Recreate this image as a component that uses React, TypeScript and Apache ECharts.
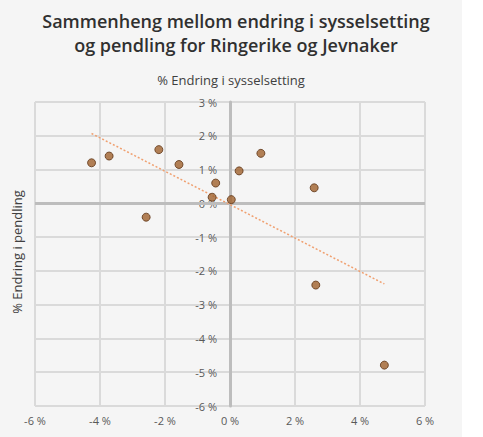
import React, { useEffect, useRef } from "react";
import * as echarts from "echarts";

const titleLines = ["Sammenheng mellom endring i sysselsetting", "og pendling for Ringerike og Jevnaker"];
const xAxisTitle = "% Endring i sysselsetting";
const yAxisTitle = "% Endring i pendling";

// % change in employment (x) and % change in commuting (y)
const employmentChange = [-4.26, -3.72, -2.19, -1.57, -2.58, -0.44, -0.55, 0.04, 0.28, 0.95, 2.59, 2.64, 4.75];
const commutingChange = [1.2, 1.4, 1.59, 1.15, -0.41, 0.6, 0.18, 0.11, 0.96, 1.48, 0.46, -2.42, -4.79];

const xMin = -6, xMax = 6, xStep = 2;
const yMin = -6, yMax = 3, yStep = 1;

function linearTrend(xs: number[], ys: number[]) {
  const n = xs.length;
  const mx = xs.reduce((a, b) => a + b, 0) / n;
  const my = ys.reduce((a, b) => a + b, 0) / n;
  let sxy = 0, sxx = 0;
  for (let i = 0; i < n; i++) {
    sxy += (xs[i] - mx) * (ys[i] - my);
    sxx += (xs[i] - mx) * (xs[i] - mx);
  }
  const m = sxy / sxx;
  const b = my - m * mx;
  const x0 = Math.min(...xs), x1 = Math.max(...xs);
  return [[x0, m * x0 + b], [x1, m * x1 + b]];
}

export default function App() {
  const ref = useRef<HTMLDivElement>(null);
  useEffect(() => {
    document.body.style.margin = "0";
    if (!ref.current) return;
    const chart = echarts.init(ref.current, null, { renderer: "svg" });
    const points = employmentChange.map((x, i) => [x, commutingChange[i]]);
    const trend = linearTrend(employmentChange, commutingChange);
    const fmt = (v: number) => `${v} %`;
    const gridLeft = 35, gridRight = 58;
    const plotWidth = 483 - gridLeft - gridRight;
    const zeroOffset = -plotWidth * (0 - xMin) / (xMax - xMin);
    chart.setOption({
      animation: false,
      backgroundColor: "#ffffff",
      textStyle: { fontFamily: "Open Sans" },
      graphic: [
        { type: "rect", left: 0, top: 0, shape: { width: 462, height: 437 }, style: { fill: "#f5f5f5" }, z: -10 },
        {
          type: "text", x: 236, y: 9,
          style: {
            text: titleLines.join("\n"), fill: "#303030", font: "600 18px 'Open Sans'",
            align: "center", verticalAlign: "top", lineHeight: 24,
          },
        },
        {
          type: "text", x: 231, y: 80,
          style: { text: xAxisTitle, fill: "#404040", font: "13px 'Open Sans'", align: "center", verticalAlign: "middle" },
        },
        {
          type: "text", x: 17, y: 252, rotation: Math.PI / 2,
          style: { text: yAxisTitle, fill: "#404040", font: "13px 'Open Sans'", align: "center", verticalAlign: "middle" },
        },
      ],
      grid: { left: gridLeft, right: gridRight, top: 102, bottom: 31 },
      xAxis: {
        type: "value", min: xMin, max: xMax, interval: xStep, position: "bottom",
        axisLine: { show: false, onZero: false }, axisTick: { show: false },
        axisLabel: { formatter: fmt, color: "#595959", fontSize: 11, margin: 9 },
        splitLine: { show: true, lineStyle: { color: "#dadada", width: 2 } },
      },
      yAxis: {
        type: "value", min: yMin, max: yMax, interval: yStep, position: "left", offset: zeroOffset,
        axisLine: { show: true, onZero: false, lineStyle: { color: "#bdbdbd", width: 3 } },
        axisTick: { show: false },
        axisLabel: { formatter: fmt, color: "#595959", fontSize: 11, margin: 13 },
        splitLine: { show: true, lineStyle: { color: "#dadada", width: 2 } },
      },
      series: [
        {
          type: "line", data: trend, showSymbol: false, symbol: "none", silent: true,
          lineStyle: { color: "#f0a070", width: 1.5, type: [2, 2] }, z: 3,
        },
        {
          type: "scatter", data: points, symbolSize: 8, z: 4,
          itemStyle: { color: "#a0622d", borderColor: "#5e3515", borderWidth: 1 },
          markLine: {
            silent: true, symbol: "none", label: { show: false },
            lineStyle: { color: "#bdbdbd", width: 3, type: "solid" },
            data: [{ yAxis: 0 }],
            z: 1,
          },
        },
      ],
    });
    return () => chart.dispose();
  }, []);
  return <div ref={ref} style={{ width: 483, height: 437, position: "absolute", left: 0, top: 0 }} />;
}
